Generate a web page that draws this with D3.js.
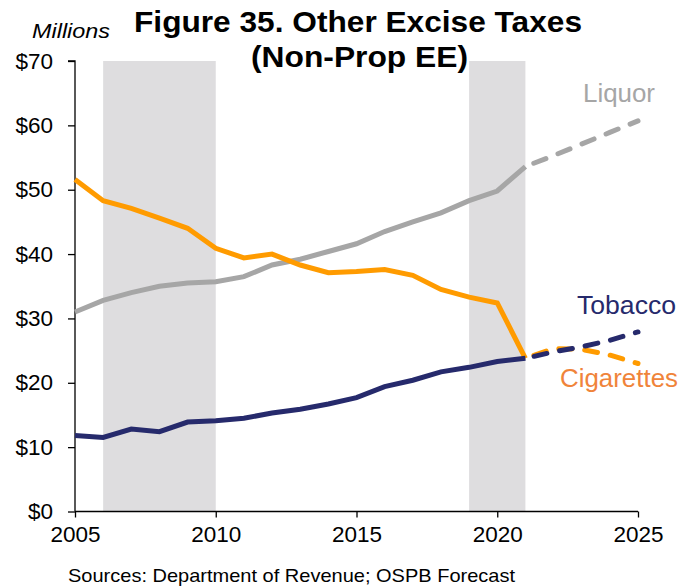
<!DOCTYPE html>
<html>
<head>
<meta charset="utf-8">
<script src="https://cdn.jsdelivr.net/npm/d3@7"></script>
<style>
  html, body { margin: 0; padding: 0; background: #fff; }
  svg { display: block; font-family: "Liberation Sans", Arial, sans-serif; }
</style>
</head>
<body>
<svg id="chart" width="692" height="586"></svg>
<script>
// Annual revenue, $ millions (2021 onward is forecast)
const years = [2005, 2006, 2007, 2008, 2009, 2010, 2011, 2012, 2013, 2014, 2015,
               2016, 2017, 2018, 2019, 2020, 2021, 2022, 2023, 2024, 2025];
const liquor = [31.0, 32.8, 34.0, 35.0, 35.5, 35.7, 36.5, 38.3, 39.2, 40.4, 41.6,
                43.5, 45.0, 46.4, 48.3, 49.8, 53.6, 55.3, 57.1, 58.9, 60.7];
const cigarettes = [51.6, 48.3, 47.1, 45.6, 44.0, 40.9, 39.4, 40.0, 38.3, 37.1, 37.3,
                    37.6, 36.7, 34.5, 33.3, 32.4, 23.8, 25.3, 25.2, 24.3, 23.0];
const tobacco = [11.8, 11.5, 12.8, 12.4, 13.9, 14.1, 14.5, 15.3, 15.9, 16.7, 17.7,
                 19.4, 20.4, 21.7, 22.4, 23.3, 23.8, 24.8, 25.6, 26.6, 27.9];
const forecastStart = 2021;
// Recession periods shaded behind the lines
const recessions = [[2006, 2010], [2019, 2021]];
const xTicks = [2005, 2010, 2015, 2020, 2025];
const yTicks = [0, 10, 20, 30, 40, 50, 60, 70];

const svg = d3.select("#chart");
const x = d3.scaleLinear().domain([2005, 2025]).range([75, 638]);
const y = d3.scaleLinear().domain([0, 70]).range([511.5, 61]);

// shaded periods
svg.append("g").selectAll("rect").data(recessions).join("rect")
  .attr("x", d => x(d[0])).attr("width", d => x(d[1]) - x(d[0]))
  .attr("y", y(70)).attr("height", y(0) - y(70))
  .attr("fill", "#DEDDDF");

// axes
const yAxis = svg.append("g").attr("transform", `translate(${x(2005)},0)`)
  .call(d3.axisLeft(y).tickValues(yTicks).tickSize(7).tickPadding(15)
    .tickFormat(d => "$" + d));
const xAxis = svg.append("g").attr("transform", `translate(0,${y(0)})`)
  .call(d3.axisBottom(x).tickValues(xTicks).tickSize(6).tickPadding(9)
    .tickFormat(d3.format("d")));
[yAxis, xAxis].forEach(a => {
  a.select(".domain").attr("stroke", "#000").attr("stroke-width", 1.3);
  a.selectAll(".tick line").attr("stroke", "#000").attr("stroke-width", 1.3);
  a.selectAll("text").attr("fill", "#000").attr("font-size", 22.5)
    .attr("font-family", '"Liberation Sans", Arial, sans-serif');
});
yAxis.select(".domain").attr("d", `M-7,${y(70)}H0V${y(0)}`);
xAxis.select(".domain").attr("d", `M${x(2005)},0H${x(2025)}`);

// series lines: solid history, dashed forecast
const series = [
  { name: "Liquor", values: liquor, color: "#A6A6A6" },
  { name: "Cigarettes", values: cigarettes, color: "#FF9B00" },
  { name: "Tobacco", values: tobacco, color: "#262A6C" }
];
const line = d3.line().x(d => x(d.year)).y(d => y(d.value));
const seriesG = svg.append("g");
series.forEach(s => {
  const pts = years.map((yr, i) => ({ year: yr, value: s.values[i] }));
  const hist = pts.filter(p => p.year <= forecastStart);
  const fcst = pts.filter(p => p.year >= forecastStart);
  seriesG.append("path").datum(fcst).attr("d", line)
    .attr("fill", "none").attr("stroke", s.color).attr("stroke-width", 5)
    .attr("stroke-linecap", "round").attr("stroke-dasharray", "13,13")
    .attr("stroke-dashoffset", -9);
  seriesG.append("path").datum(hist).attr("d", line)
    .attr("fill", "none").attr("stroke", s.color).attr("stroke-width", 5)
    .attr("stroke-linejoin", "miter");
});

// text helper: fixed font size, stretched to a set width
function label(g, t, px, py, size, width, opts = {}) {
  const el = g.append("text").attr("x", px).attr("y", py)
    .attr("font-size", size).attr("textLength", width)
    .attr("lengthAdjust", "spacingAndGlyphs").text(t);
  if (opts.color) el.attr("fill", opts.color);
  if (opts.weight) el.attr("font-weight", opts.weight);
  if (opts.style) el.attr("font-style", opts.style);
  return el;
}

// series labels
const labelsG = svg.append("g");
label(labelsG, "Liquor", 583, 102, 25, 72, { color: "#A6A6A6" });
label(labelsG, "Tobacco", 577, 314, 25, 99, { color: "#262A6C" });
label(labelsG, "Cigarettes", 560, 387, 25, 118, { color: "#F0843A" });

// title and units
label(svg, "Figure 35. Other Excise Taxes", 134, 32, 30, 448, { weight: "bold" });
label(svg, "(Non-Prop EE)", 251, 67, 30, 217, { weight: "bold" });
label(svg, "Millions", 32, 38, 20, 78, { style: "italic" });

// source note
label(svg, "Sources: Department of Revenue; OSPB Forecast", 68, 582, 18.5, 447);
</script>
</body>
</html>
